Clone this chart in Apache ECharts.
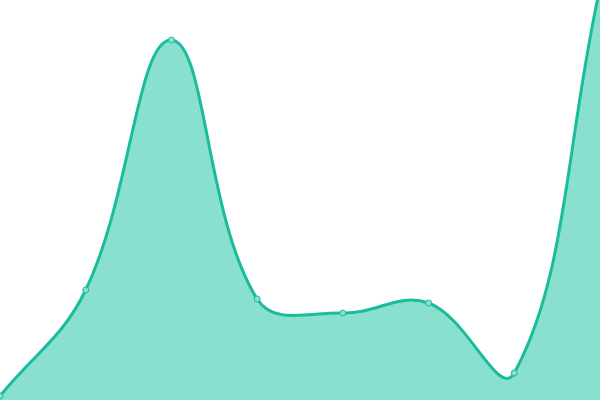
<!DOCTYPE html>
<html>
<head>
    <meta charset="utf-8">
    <title>ECharts</title>
    <script src="https://cdn.jsdelivr.net/npm/echarts@6/dist/echarts.min.js"></script>
    <style>html,body{margin:0;padding:0;background:#fff;}</style>
</head>
<body>
    <div id="main" style="width: 600px;height:400px;"></div>
    <script type="text/javascript">
        // data
        var categories = ['A', 'B', 'C', 'D', 'E', 'F', 'G', 'H'];
        var values = [4, 110, 360, 101, 87, 97, 27, 412];

        var myChart = echarts.init(document.getElementById('main'));

        // cardinal spline (tension 0.4), no clamping to neighbours -> curve may overshoot
        function curvePath(pts, t) {
            var cps = [];
            for (var i = 0; i < pts.length; i++) {
                var prev = pts[i - 1] || pts[i], cur = pts[i], next = pts[i + 1] || pts[i];
                var d01 = Math.hypot(cur[0] - prev[0], cur[1] - prev[1]);
                var d12 = Math.hypot(next[0] - cur[0], next[1] - cur[1]);
                var s01 = d01 / (d01 + d12) || 0, s12 = d12 / (d01 + d12) || 0;
                var fa = t * s01, fb = t * s12;
                cps.push({
                    px: cur[0] - fa * (next[0] - prev[0]), py: cur[1] - fa * (next[1] - prev[1]),
                    nx: cur[0] + fb * (next[0] - prev[0]), ny: cur[1] + fb * (next[1] - prev[1])
                });
            }
            var d = 'M' + pts[0][0] + ' ' + pts[0][1];
            for (var j = 0; j < pts.length - 1; j++) {
                d += ' C' + cps[j].nx + ' ' + cps[j].ny + ' ' + cps[j + 1].px + ' ' + cps[j + 1].py +
                     ' ' + pts[j + 1][0] + ' ' + pts[j + 1][1];
            }
            return d;
        }

        function renderArea(params, api) {
            if (params.dataIndex !== 0) return null;
            var pts = values.map(function (v, i) { return api.coord([i, v]); });
            var line = curvePath(pts, 0.4);
            var base = api.coord([0, 0])[1];
            var area = line + ' L' + pts[pts.length - 1][0] + ' ' + base + ' L' + pts[0][0] + ' ' + base + ' Z';
            return {
                type: 'group',
                children: [
                    {type: 'path', shape: {pathData: area}, style: {fill: '#8ae0cf', stroke: null}},
                    {type: 'path', shape: {pathData: line}, style: {fill: null, stroke: '#1abc9c', lineWidth: 3, lineJoin: 'round'}}
                ]
            };
        }

        var option = {
            animation: false,
            grid: {left: 0, right: 0, top: 0, bottom: 0},
            xAxis: {
                type: 'category',
                boundaryGap: false,
                show: false,
                data: categories
            },
            yAxis: {
                type: 'value',
                min: 0,
                max: 400,
                show: false
            },
            series: [{
                type: 'custom',
                renderItem: renderArea,
                data: values.map(function (v, i) { return [i, v]; }),
                z: 1
            }, {
                type: 'scatter',
                symbol: 'circle',
                symbolSize: 6,
                data: values,
                itemStyle: {color: '#8ae0cf', borderColor: '#1abc9c', borderWidth: 1, opacity: 1},
                z: 3
            }]
        };
        myChart.setOption(option);
    </script>
</body>
</html>
